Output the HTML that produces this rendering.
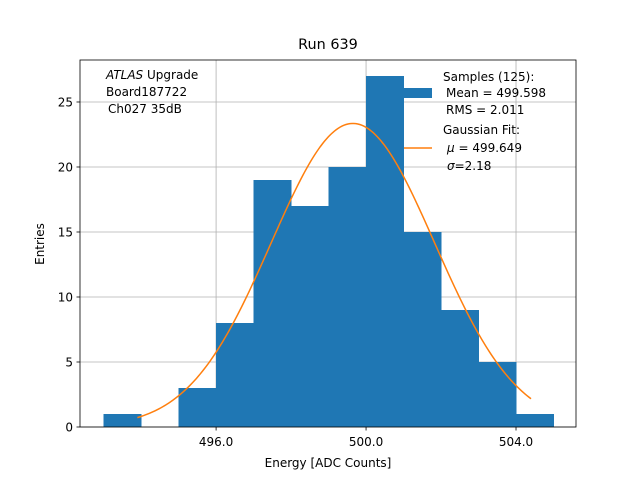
<!DOCTYPE html>
<html><head><meta charset="utf-8"><style>
body{margin:0;background:#fff;font-family:"DejaVu Sans","Liberation Sans",sans-serif;}
svg text{font-family:"DejaVu Sans","Liberation Sans",sans-serif;fill:#000;}
</style></head><body>
<svg id="chart" width="640" height="480">
<rect width="640" height="480" fill="#fff"/>
<g id="grid"></g><g id="bars"></g><g id="curve"></g><g id="axes"></g>
</svg>
<script>
const binStarts=[493,494,495,496,497,498,499,500,501,502,503,504];
const binCounts=[1,0,3,8,19,17,20,27,15,9,5,1];
const xTicks=[496,500,504];
const xTickLabels=["496.0","500.0","504.0"];
const yTicks=[0,5,10,15,20,25];
const fitMu=[499.649];
const fitSigma=[2.18];
const fitAmp=[23.35];
const fitRange=[493.9,504.4];
const L=80,R=576,T=60,B=427;
const xMin=492.37,xMax=505.6,yMin=0,yMax=28.23;
const X=v=>L+(v-xMin)/(xMax-xMin)*(R-L);
const Y=v=>B-(v-yMin)/(yMax-yMin)*(B-T);
const NS="http://www.w3.org/2000/svg";
function mk(tag,attrs,parent,text){const e=document.createElementNS(NS,tag);for(const k in attrs)e.setAttribute(k,attrs[k]);if(text!==undefined)e.textContent=text;parent.appendChild(e);return e;}
const grid=document.getElementById('grid'),bars=document.getElementById('bars'),curve=document.getElementById('curve'),axes=document.getElementById('axes');
xTicks.forEach((t,i)=>{
 const g=mk('line',{x1:X(t),x2:X(t),y1:T,y2:B,stroke:'#b0b0b0','stroke-width':0.8},grid);
 
 
 mk('line',{x1:X(t),x2:X(t),y1:B,y2:B+3.5,stroke:'#000','stroke-width':0.8},axes);
 const lb=mk('text',{x:X(t),y:B+19,'font-size':12,'text-anchor':'middle'},axes,xTickLabels[i]);
 
 
});
yTicks.forEach(t=>{
 const g=mk('line',{x1:L,x2:R,y1:Y(t),y2:Y(t),stroke:'#b0b0b0','stroke-width':0.8},grid);
 
 
 mk('line',{x1:L-3.5,x2:L,y1:Y(t),y2:Y(t),stroke:'#000','stroke-width':0.8},axes);
 const lb=mk('text',{x:L-7,y:Y(t)+4.5,'font-size':12,'text-anchor':'end'},axes,String(t));
 
 
});
binStarts.forEach((s,i)=>{
 if(binCounts[i]<=0)return;
 const r=mk('rect',{x:X(s),y:Y(binCounts[i]),width:X(s+1)-X(s)+0.6,height:Y(0)-Y(binCounts[i]),fill:'#1f77b4','shape-rendering':'crispEdges'},bars);
 
 
});
let pts=[];
for(let k=0;k<=200;k++){const v=fitRange[0]+(fitRange[1]-fitRange[0])*k/200;const y=fitAmp[0]*Math.exp(-0.5*((v-fitMu[0])/fitSigma[0])**2);pts.push(X(v).toFixed(2)+','+Y(y).toFixed(2));}
const pl=mk('polyline',{points:pts.join(' '),fill:'none',stroke:'#ff7f0e','stroke-width':1.5},curve);


mk('rect',{x:L,y:T,width:R-L,height:B-T,fill:'none',stroke:'#000','stroke-width':0.8},axes);
</script>
<svg style="position:absolute;left:0;top:0" width="640" height="480">
<text x="328" y="49" font-size="14.4" text-anchor="middle">Run 639</text>
<text x="328" y="467" font-size="12" text-anchor="middle">Energy [ADC Counts]</text>
<text transform="translate(44,244) rotate(-90)" font-size="12" text-anchor="middle">Entries</text>
<g font-size="12">
<text x="106" y="79"><tspan font-style="italic">ATLAS</tspan> Upgrade</text>
<text x="106" y="96"> Board187722</text>
<text x="108" y="113">Ch027 35dB</text>
</g>
<g font-size="12">
<rect x="404" y="88" width="28" height="10" fill="#1f77b4"/>
<text x="443" y="81">Samples (125):</text>
<text x="446" y="97">Mean = 499.598</text>
<text x="446" y="114">RMS = 2.011</text>
<line x1="404" x2="432" y1="148" y2="148" stroke="#ff7f0e" stroke-width="1.5"/>
<text x="443" y="134">Gaussian Fit:</text>
<text x="447" y="152"><tspan font-style="italic">μ</tspan> = 499.649</text>
<text x="447" y="170"><tspan font-style="italic">σ</tspan>=2.18</text>
</g>
</svg>
</body></html>
